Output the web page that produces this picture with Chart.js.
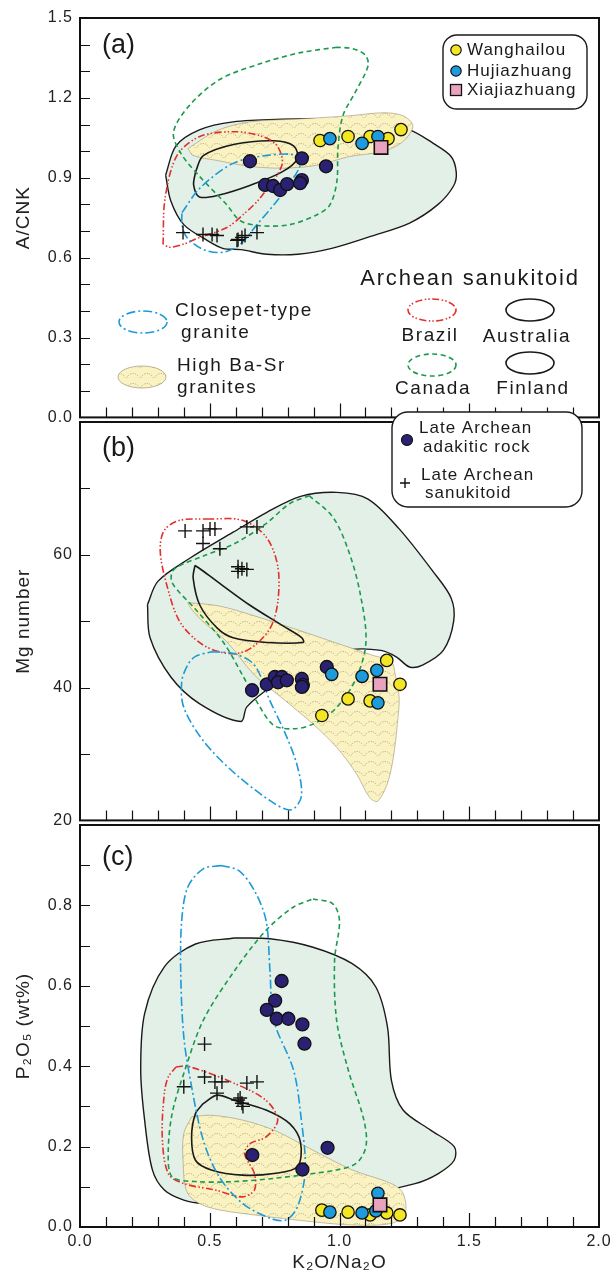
<!DOCTYPE html>
<html>
<head>
<meta charset="utf-8">
<script src="https://cdn.jsdelivr.net/npm/chart.js@4.4.1/dist/chart.umd.min.js"></script>
<style>
html, body { margin: 0; padding: 0; background: #fff; }
#wrap { position: relative; width: 613px; height: 1277px; }
canvas { position: absolute; left: 0; }
</style>
</head>
<body>
<div id="wrap">
  <canvas id="chartA" width="613" height="434" style="top:0px"></canvas>
  <canvas id="chartB" width="613" height="439" style="top:398px"></canvas>
  <canvas id="chartC" width="613" height="477" style="top:800px"></canvas>
</div>
<script>
// axis ticks
const xTicks = [0, 0.5, 1.0, 1.5, 2.0];
const yTicksA = [0, 0.3, 0.6, 0.9, 1.2, 1.5];
const yTicksB = [20, 40, 60];
const yTicksC = [0, 0.2, 0.4, 0.6, 0.8];

// samples, [K2O/Na2O, value]
// (a) A/CNK
const wangA = [[0.925,1.040],[1.033,1.055],[1.118,1.055],[1.187,1.047],[1.237,1.081]];
const hujiA = [[0.963,1.047],[1.087,1.029],[1.148,1.055]];
const xiaA = [[1.160,1.014]];
const adakA = [[0.655,0.962],[0.855,0.973],[0.948,0.943],[0.713,0.873],[0.744,0.869],[0.771,0.854],[0.798,0.876],[0.855,0.891],[0.848,0.880]];
const sanuA = [[0.397,0.694],[0.474,0.687],[0.509,0.687],[0.528,0.683],[0.609,0.668],[0.624,0.676],[0.636,0.683],[0.682,0.694],[0.605,0.665]];

// (b) Mg number
const wangB = [[1.182,44.1],[1.233,40.5],[1.033,38.3],[1.118,38.0],[0.932,35.8]];
const hujiB = [[0.970,42.0],[1.087,41.7],[1.144,42.6],[1.148,37.7]];
const xiaB = [[1.156,40.5]];
const adakB = [[0.663,39.6],[0.720,40.5],[0.751,41.6],[0.778,41.6],[0.763,40.8],[0.797,41.1],[0.855,41.3],[0.859,40.4],[0.855,40.1],[0.951,43.1]];
const sanuB = [[0.405,63.6],[0.474,63.6],[0.501,63.9],[0.520,63.9],[0.474,61.7],[0.539,60.9],[0.643,64.2],[0.682,64.2],[0.609,58.2],[0.624,57.9],[0.643,57.8],[0.609,57.5]];

// (c) P2O5
const wangC = [[0.932,0.042],[1.033,0.037],[1.118,0.030],[1.182,0.035],[1.233,0.030]];
const hujiC = [[0.963,0.037],[1.087,0.035],[1.140,0.040],[1.148,0.084]];
const xiaC = [[1.156,0.055]];
const adakC = [[0.777,0.612],[0.752,0.563],[0.720,0.540],[0.758,0.518],[0.803,0.518],[0.857,0.504],[0.865,0.456],[0.664,0.179],[0.954,0.197],[0.857,0.143]];
const sanuC = [[0.400,0.349],[0.480,0.455],[0.480,0.373],[0.520,0.361],[0.547,0.361],[0.528,0.333],[0.643,0.358],[0.682,0.361],[0.609,0.316],[0.624,0.308],[0.628,0.300],[0.617,0.321]];

// field outlines
const australiaA = [[0.33,0.91],[0.37,1.02],[0.46,1.08],[0.59,1.11],[0.78,1.12],[0.95,1.12],[1.15,1.10],[1.27,1.08],[1.36,1.03],[1.43,0.98],[1.45,0.92],[1.44,0.87],[1.38,0.80],[1.27,0.73],[1.12,0.68],[0.97,0.635],[0.84,0.613],[0.72,0.613],[0.62,0.63],[0.55,0.635],[0.49,0.665],[0.40,0.724],[0.35,0.813]];
const highBaSrA = [[0.416,1.01],[0.528,1.077],[0.655,1.11],[0.848,1.121],[1.04,1.133],[1.168,1.144],[1.245,1.133],[1.283,1.095],[1.245,1.036],[1.168,0.999],[1.04,0.98],[0.913,0.947],[0.782,0.936],[0.655,0.943],[0.528,0.965],[0.435,0.984]];
const finlandA = [[0.445,0.921],[0.475,0.983],[0.596,1.026],[0.747,1.039],[0.823,1.02],[0.838,0.971],[0.777,0.921],[0.657,0.872],[0.536,0.835],[0.46,0.828],[0.438,0.872]];
const brazilA = [[0.320,0.650],[0.328,0.824],[0.374,0.984],[0.462,1.055],[0.590,1.073],[0.694,1.058],[0.759,1.021],[0.778,0.947],[0.694,0.824],[0.628,0.761],[0.566,0.713],[0.462,0.676],[0.397,0.650],[0.347,0.639]];
const canadaA = [[0.99,1.39],[0.85,1.37],[0.70,1.33],[0.54,1.27],[0.42,1.17],[0.36,1.07],[0.39,0.99],[0.46,0.906],[0.566,0.798],[0.617,0.739],[0.694,0.72],[0.809,0.724],[0.913,0.761],[0.963,0.798],[0.99,0.887],[0.994,1.01],[1.013,1.133],[1.06,1.22],[1.11,1.32],[1.10,1.36],[1.05,1.385]];
const closepetA = [[0.393,0.769],[0.462,0.861],[0.590,0.954],[0.721,0.984],[0.836,0.984],[0.848,0.947],[0.809,0.880],[0.759,0.813],[0.682,0.724],[0.617,0.650],[0.551,0.620],[0.474,0.631],[0.412,0.676],[0.393,0.724]];

const australiaB = [[0.26,52.5],[0.30,56],[0.42,59.4],[0.59,63.4],[0.72,66.4],[0.85,68.8],[0.99,69.4],[1.11,68.4],[1.23,63.9],[1.36,57.5],[1.43,53.5],[1.44,50],[1.40,45.6],[1.32,43.4],[1.27,43.1],[1.22,44.6],[1.16,45.6],[1.04,45.7],[0.90,44],[0.75,40.5],[0.643,37.1],[0.62,34.9],[0.46,37.6],[0.35,41.6],[0.27,47.5]];
const highBaSrB = [[0.415,52.8],[0.536,52.3],[0.672,50.8],[0.823,48.9],[0.974,46.9],[1.125,44.9],[1.2,43.9],[1.215,41.9],[1.23,38.5],[1.223,34.5],[1.208,29.6],[1.185,25.6],[1.147,22.9],[1.117,23.4],[1.064,27.1],[0.989,31.0],[0.898,34.5],[0.792,38.0],[0.672,41.9],[0.566,46.9],[0.475,49.9],[0.43,51.8]];
const finlandB = [[0.443,58.4],[0.462,57.9],[0.528,56.0],[0.655,52.4],[0.782,49.3],[0.855,47.5],[0.86,46.8],[0.72,46.8],[0.59,47.5],[0.528,49.0],[0.462,52.4],[0.436,56.5]];
const brazilB = [[0.491,65.4],[0.626,65.2],[0.717,62.7],[0.762,58.3],[0.762,52.8],[0.732,48.9],[0.657,45.9],[0.581,45.1],[0.475,46.4],[0.385,49.9],[0.332,55.8],[0.309,60.7],[0.325,63.7],[0.385,65.2]];
const canadaB = [[0.883,68.9],[0.974,65.7],[1.034,60.7],[1.079,54.3],[1.102,46.9],[1.064,41.4],[0.989,37.0],[0.898,34.5],[0.823,33.8],[0.747,34.3],[0.687,37.5],[0.626,41.9],[0.551,46.9],[0.445,51.8],[0.355,55.8],[0.362,57.8],[0.475,59.8],[0.596,61.7],[0.717,64.7],[0.808,67.7]];
const closepetB = [[0.506,45.4],[0.596,45.1],[0.672,43.4],[0.732,38.0],[0.792,33.0],[0.838,28.1],[0.853,23.6],[0.815,21.6],[0.747,22.6],[0.596,27.1],[0.475,32.0],[0.40,37.0],[0.392,40.9],[0.415,43.4],[0.445,44.7]];

const australiaC = [[0.596,0.719],[0.732,0.717],[0.898,0.696],[1.049,0.655],[1.140,0.597],[1.185,0.497],[1.2,0.365],[1.245,0.291],[1.351,0.241],[1.442,0.2],[1.442,0.166],[1.381,0.133],[1.291,0.108],[1.0,0.07],[0.70,0.06],[0.475,0.059],[0.40,0.067],[0.325,0.092],[0.279,0.142],[0.249,0.266],[0.234,0.39],[0.249,0.531],[0.325,0.647],[0.445,0.704]];
const highBaSrC = [[0.43,0.274],[0.506,0.278],[0.626,0.266],[0.747,0.241],[0.898,0.191],[1.049,0.142],[1.2,0.108],[1.245,0.084],[1.253,0.034],[1.2,0.009],[1.049,0.005],[0.898,0.013],[0.672,0.03],[0.491,0.05],[0.415,0.084],[0.397,0.166],[0.40,0.233]];
const finlandC = [[0.475,0.307],[0.528,0.328],[0.596,0.315],[0.717,0.291],[0.808,0.257],[0.85,0.21],[0.838,0.150],[0.747,0.133],[0.626,0.129],[0.506,0.142],[0.445,0.166],[0.430,0.224],[0.445,0.282]];
const brazilC = [[0.370,0.398],[0.415,0.40],[0.596,0.357],[0.717,0.315],[0.762,0.266],[0.717,0.224],[0.657,0.208],[0.634,0.183],[0.672,0.133],[0.672,0.092],[0.626,0.075],[0.521,0.092],[0.40,0.108],[0.340,0.133],[0.317,0.224],[0.325,0.332],[0.340,0.373]];
const canadaC = [[0.898,0.816],[0.974,0.804],[1.0,0.762],[0.981,0.663],[0.989,0.514],[1.034,0.39],[1.094,0.266],[1.102,0.2],[1.064,0.158],[0.989,0.142],[0.898,0.133],[0.747,0.121],[0.596,0.113],[0.445,0.113],[0.355,0.125],[0.340,0.183],[0.355,0.282],[0.40,0.382],[0.475,0.514],[0.596,0.638],[0.717,0.738],[0.823,0.796]];
const closepetC = [[0.543,0.899],[0.611,0.887],[0.672,0.837],[0.717,0.762],[0.732,0.638],[0.747,0.514],[0.823,0.39],[0.853,0.266],[0.868,0.142],[0.838,0.05],[0.792,0.017],[0.732,0.022],[0.626,0.059],[0.536,0.125],[0.475,0.216],[0.430,0.349],[0.40,0.473],[0.388,0.638],[0.392,0.762],[0.415,0.845],[0.475,0.891]];

const FONT = "'Liberation Sans', Arial, sans-serif";
Chart.defaults.font.family = FONT;
Chart.defaults.color = '#222';

const wangColor = '#f4e622';
const hujiColor = '#1d9bdc';
const xiaColor = '#eaa3bf';
const adakColor = '#2b2172';
const closepetColor = '#1c9ad8';
const brazilColor = '#e2302c';
const canadaColor = '#1b9a4b';
const inkColor = '#1a1a1a';
const dashClosepet = [9, 3, 2, 3];
const dashBrazil = [7, 2.5, 1.5, 2, 1.5, 2.5];
const dashCanada = [5, 3.5];

function makeWavePattern() {
    const c = document.createElement('canvas');
    c.width = 14; c.height = 10;
    const g = c.getContext('2d');
    g.fillStyle = '#fbf2c2';
    g.fillRect(0, 0, 14, 10);
    g.strokeStyle = 'rgba(110,100,80,0.6)';
    g.lineWidth = 0.8;
    g.setLineDash([1.2, 1.2]);
    g.beginPath();
    g.arc(7, 10, 6.5, Math.PI * 1.12, Math.PI * 1.88);
    g.stroke();
    return g.createPattern(c, 'repeat');
}
const wavePattern = makeWavePattern();

const toPts = arr => arr.map(([x, y]) => ({ x, y }));
const loop = arr => toPts(arr.concat([arr[0]]));

function field(data, opts) {
    return Object.assign({
        type: 'line',
        data: loop(data),
        pointRadius: 0,
        tension: 0.32,
        borderWidth: 1.6,
        borderColor: inkColor,
        backgroundColor: 'transparent',
        fill: false
    }, opts);
}

function points(data, opts) {
    return Object.assign({
        type: 'scatter',
        data: toPts(data),
        pointRadius: 6.2,
        pointBorderWidth: 1.3,
        pointBorderColor: '#111'
    }, opts);
}

function panelSets(wang, huji, xia, adak, sanu, closepet, canada, brazil, finland, highBaSr, australia) {
    // first dataset is drawn on top
    return [
        points(xia, { pointStyle: 'rect', pointRadius: 9.5, pointBackgroundColor: xiaColor, pointBorderWidth: 1.6 }),
        points(huji, { pointBackgroundColor: hujiColor }),
        points(wang, { pointBackgroundColor: wangColor }),
        points(adak, { pointRadius: 6.5, pointBackgroundColor: adakColor }),
        points(sanu, { pointStyle: 'cross', pointRadius: 7, pointBorderWidth: 1.4 }),
        field(closepet, { borderColor: closepetColor, borderDash: dashClosepet }),
        field(canada, { borderColor: canadaColor, borderDash: dashCanada }),
        field(brazil, { borderColor: brazilColor, borderDash: dashBrazil }),
        field(finland, { borderColor: inkColor }),
        field(highBaSr, { borderColor: 'rgba(150,140,110,0.7)', borderWidth: 0.8, backgroundColor: wavePattern, fill: 'shape' }),
        field(australia, { borderColor: inkColor, borderWidth: 1.4, backgroundColor: '#e3f0e7', fill: 'shape' })
    ];
}

// box, inner ticks
const framePlugin = {
    id: 'frame',
    beforeLayout(chart) { chart.ctx.letterSpacing = '1px'; },
    beforeDraw(chart) { chart.ctx.letterSpacing = '1px'; },
    afterDatasetsDraw(chart, args, opts) {
        const { ctx, chartArea: a, scales: { x, y } } = chart;
        ctx.save();
        ctx.strokeStyle = '#111';
        ctx.lineWidth = 1.2;
        ctx.setLineDash([]);
        ctx.beginPath();
        for (let i = 1; i < 20; i++) {
            const px = Math.round(x.getPixelForValue(i / 10)) + 0.5;
            const len = i % 5 === 0 ? 14 : 10;
            ctx.moveTo(px, a.bottom);
            ctx.lineTo(px, a.bottom - len);
        }
        const n = Math.round((opts.yMax - opts.yMin) / opts.yStep);
        for (let i = 1; i < n; i++) {
            const py = Math.round(y.getPixelForValue(opts.yMin + i * opts.yStep)) + 0.5;
            ctx.moveTo(a.left, py);
            ctx.lineTo(a.left + 10, py);
        }
        ctx.stroke();
        ctx.lineWidth = 2;
        ctx.strokeRect(a.left, a.top, a.right - a.left, a.bottom - a.top);
        ctx.restore();
    }
};

function txt(ctx, s, x, y, size, align, spacing) {
    ctx.font = size + 'px ' + FONT;
    ctx.letterSpacing = (spacing === undefined ? 1 : spacing) + 'px';
    ctx.textAlign = align || 'left';
    ctx.textBaseline = 'middle';
    ctx.fillStyle = inkColor;
    ctx.fillText(s, x, y);
}

function roundBox(ctx, x, y, w, h, r) {
    ctx.beginPath();
    ctx.roundRect(x, y, w, h, r);
    ctx.fillStyle = '#fff';
    ctx.fill();
    ctx.lineWidth = 1.4;
    ctx.strokeStyle = inkColor;
    ctx.setLineDash([]);
    ctx.stroke();
}

function dot(ctx, x, y, r, color) {
    ctx.beginPath();
    ctx.arc(x, y, r, 0, Math.PI * 2);
    ctx.fillStyle = color;
    ctx.fill();
    ctx.lineWidth = 1.2;
    ctx.strokeStyle = '#111';
    ctx.setLineDash([]);
    ctx.stroke();
}

function ring(ctx, x, y, color, dash, fillStyle, width) {
    ctx.beginPath();
    ctx.ellipse(x, y, 24, 11, 0, 0, Math.PI * 2);
    if (fillStyle) { ctx.fillStyle = fillStyle; ctx.fill(); }
    ctx.setLineDash(dash || []);
    ctx.lineWidth = width || 1.6;
    ctx.strokeStyle = color;
    ctx.stroke();
    ctx.setLineDash([]);
}

function extrasA(ctx) {
    txt(ctx, '(a)', 102, 46, 27, 'left', 0);
    roundBox(ctx, 443, 35, 144, 74, 14);
    dot(ctx, 456, 50, 5.2, wangColor);
    dot(ctx, 456, 71, 5.2, hujiColor);
    ctx.fillStyle = xiaColor;
    ctx.fillRect(450.5, 84.5, 11, 11);
    ctx.lineWidth = 1.3;
    ctx.strokeStyle = '#111';
    ctx.strokeRect(450.5, 84.5, 11, 11);
    txt(ctx, 'Wanghailou', 467, 50, 17);
    txt(ctx, 'Hujiazhuang', 467, 71, 17);
    txt(ctx, 'Xiajiazhuang', 467, 90, 17);

    txt(ctx, 'Archean sanukitoid', 470, 279, 22, 'center', 1.8);
    ring(ctx, 143, 322, closepetColor, dashClosepet);
    ring(ctx, 142, 377, 'rgba(150,140,110,0.8)', [], wavePattern, 0.8);
    ring(ctx, 432, 310, brazilColor, dashBrazil);
    ring(ctx, 530, 310, inkColor, []);
    ring(ctx, 432, 365, canadaColor, dashCanada);
    ring(ctx, 530, 363, inkColor, []);
    txt(ctx, 'Closepet-type', 175, 311, 19, 'left', 1.6);
    txt(ctx, 'granite', 181, 333, 19, 'left', 1.6);
    txt(ctx, 'High Ba-Sr', 177, 366, 19, 'left', 1.6);
    txt(ctx, 'granites', 177, 388, 19, 'left', 1.6);
    txt(ctx, 'Brazil', 430, 336, 19, 'center', 1.6);
    txt(ctx, 'Australia', 527, 337, 19, 'center', 1.6);
    txt(ctx, 'Canada', 433, 389, 19, 'center', 1.6);
    txt(ctx, 'Finland', 533, 389, 19, 'center', 1.6);
}

function extrasB(ctx) {
    txt(ctx, '(b)', 102, 449, 27, 'left', 0);
    roundBox(ctx, 392, 412, 190, 95, 16);
    dot(ctx, 407, 440, 5.5, adakColor);
    ctx.beginPath();
    ctx.moveTo(400, 483); ctx.lineTo(410, 483);
    ctx.moveTo(405, 478); ctx.lineTo(405, 488);
    ctx.lineWidth = 1.4;
    ctx.strokeStyle = '#111';
    ctx.stroke();
    txt(ctx, 'Late Archean', 419, 428, 17);
    txt(ctx, 'adakitic rock', 423, 447, 17);
    txt(ctx, 'Late Archean', 421, 475, 17);
    txt(ctx, 'sanukitoid', 425, 493, 17);
}

function extrasC(ctx) {
    txt(ctx, '(c)', 102, 858, 27, 'left', 0);
}

function makePanel(id, top, padTop, padBottom, yMin, yMax, yStep, yTicks, yFmt, yTitle, showX, datasets, extras) {
    return new Chart(document.getElementById(id), {
        type: 'scatter',
        data: { datasets },
        options: {
            responsive: false,
            animation: false,
            events: [],
            layout: { padding: { top: padTop, bottom: padBottom, left: 0, right: 14 } },
            plugins: {
                legend: { display: false },
                tooltip: { enabled: false },
                frame: { yMin, yMax, yStep }
            },
            scales: {
                x: {
                    type: 'linear', min: 0, max: 2,
                    display: showX,
                    afterBuildTicks: s => { s.ticks = xTicks.map(v => ({ value: v })); },
                    afterFit: showX ? (s => { s.height = 50; s.paddingLeft = 0; s.paddingRight = 0; }) : undefined,
                    ticks: { callback: v => v.toFixed(1), padding: 5, font: { size: 16 }, color: '#222', autoSkip: false, maxRotation: 0 },
                    grid: { display: false, drawTicks: false },
                    border: { display: false },
                    title: { display: showX, text: 'K₂O/Na₂O', font: { size: 19 }, color: '#222', padding: { top: 0, bottom: 3 } }
                },
                y: {
                    type: 'linear', min: yMin, max: yMax,
                    afterBuildTicks: s => { s.ticks = yTicks.map(v => ({ value: v })); },
                    afterFit: s => { s.width = 80; },
                    ticks: { callback: yFmt, padding: 7, font: { size: 16 }, color: '#222', autoSkip: false },
                    grid: { display: false, drawTicks: false },
                    border: { display: false },
                    title: { display: true, text: yTitle, font: { size: 19 }, color: '#222', padding: { top: 12, bottom: 0 } }
                }
            }
        },
        plugins: [framePlugin, {
            id: 'extras',
            afterDraw(chart) {
                const ctx = chart.ctx;
                ctx.save();
                ctx.translate(0, -top);
                extras(ctx);
                ctx.restore();
            }
        }]
    });
}

makePanel('chartA', 0, 18, 12, 0, 1.5, 0.1, yTicksA, v => v.toFixed(1), 'A/CNK', false,
    panelSets(wangA, hujiA, xiaA, adakA, sanuA, closepetA, canadaA, brazilA, finlandA, highBaSrA, australiaA), extrasA);

makePanel('chartB', 398, 24, 12, 20, 80, 10, yTicksB, v => String(v), 'Mg number', false,
    panelSets(wangB, hujiB, xiaB, adakB, sanuB, closepetB, canadaB, brazilB, finlandB, highBaSrB, australiaB), extrasB);

makePanel('chartC', 800, 25, 0, 0, 1.0, 0.1, yTicksC, v => v.toFixed(1), 'P₂O₅ (wt%)', true,
    panelSets(wangC, hujiC, xiaC, adakC, sanuC, closepetC, canadaC, brazilC, finlandC, highBaSrC, australiaC), extrasC);
</script>
</body>
</html>
